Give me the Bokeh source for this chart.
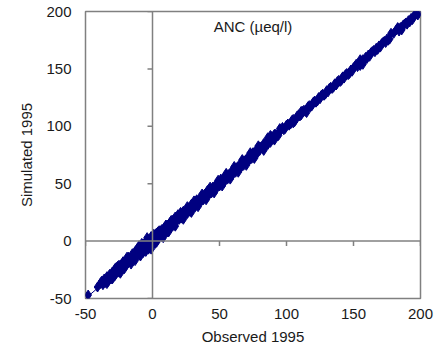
from bokeh.plotting import figure
from bokeh.models import Span, Label, Range1d, FixedTicker, PrintfTickFormatter
from bokeh.embed import file_html
from bokeh.resources import INLINE

# Data
observed = [-48, -41, -39, -37, -36, -35, -34, -33, -32, -31,
            -30, -29, -28, -28, -27, -26, -25, -25, -24, -23,
            -22, -22, -21, -20, -19, -18, -18, -17, -16, -15,
            -15, -14, -13, -12, -12, -11, -10, -10, -9, -8,
            -8, -7, -6, -6, -5, -5, -4, -4, -3, -3,
            -2, -2, -1, -1, 0, 0, 1, 1, 2, 2,
            3, 3, 4, 4, 5, 5, 6, 7, 7, 8,
            9, 9, 10, 11, 11, 12, 13, 14, 15, 15,
            16, 17, 18, 19, 20, 21, 22, 23, 24, 25,
            26, 27, 28, 29, 30, 31, 32, 33, 34, 35,
            36, 37, 38, 39, 40, 41, 42, 43, 44, 45,
            46, 47, 48, 49, 50, 51, 52, 53, 54, 55,
            56, 57, 58, 59, 60, 61, 62, 63, 64, 65,
            66, 67, 68, 69, 70, 71, 72, 73, 74, 75,
            76, 77, 78, 79, 80, 81, 82, 83, 84, 85,
            86, 87, 88, 89, 90, 92, 94, 96, 98, 100,
            102, 104, 106, 108, 110, 112, 114, 116, 118, 120,
            123, 126, 129, 132, 135, 138, 141, 144, 147, 150,
            153, 156, 160, 164, 168, 172, 176, 180, 184, 188,
            192, 196, 199,
            -38, -34, -30, -27, -24, -21, -19, -16, -13, -11,
            -9, -7, -5, -3, -1, 1, 3, 5, 8, 10,
            12, 14, 17, 19, 21, 23, 26, 29, 31, 34,
            37, 40, 43, 46, 49, 52, 55, 58, 61, 64,
            67, 70, 73, 76, 79, 83, 86, 88, 91, 95,
            105, 111, 115, 137, 142, 155, 157, 178, 183, 186,
            91, 93, 95, 97, 99,
            101, 103, 105, 107, 109, 111, 113, 115, 117, 119,
            121, 122, 124, 125, 127, 128, 130, 131, 133, 134,
            136, 137, 139, 140, 142, 143, 145, 146, 148, 149,
            151, 152, 154, 155, 157, 158, 159, 161, 162, 163,
            165, 166, 167, 169, 170, 171, 173, 174, 175, 177,
            182, 183, 185, 186, 187, 189, 190, 191, 193, 194,
            195, 197, 198]
simulated = [-47, -40, -37, -38, -33, -36, -31, -35, -29, -33,
             -27, -31, -24, -30, -28, -22, -27, -21, -25, -20,
             -24, -18, -21, -17, -20, -14, -19, -15, -18, -11,
             -16, -12, -9, -14, -10, -7, -12, -4, -9, -6,
             -2, -10, -3, -8, 0, -6, -1, 3, -7, -2,
             1, -5, -3, 4, 2, -4, 6, 0, 3, -2,
             7, 1, 2, 8, 6, 3, 9, 4, 10, 7,
             12, 6, 9, 14, 8, 11, 16, 12, 18, 13,
             14, 21, 17, 23, 19, 24, 20, 26, 22, 27,
             24, 29, 26, 32, 28, 33, 30, 36, 32, 37,
             34, 39, 36, 41, 38, 44, 40, 45, 42, 47,
             44, 49, 46, 51, 48, 54, 50, 55, 52, 56,
             54, 58, 56, 61, 58, 63, 60, 64, 62, 67,
             64, 68, 66, 70, 69, 73, 70, 75, 72, 77,
             74, 79, 76, 80, 79, 82, 81, 85, 82, 87,
             84, 88, 86, 91, 89, 93, 92, 97, 97, 101,
             101, 105, 104, 109, 109, 113, 113, 117, 117, 121,
             122, 127, 128, 133, 134, 139, 140, 145, 146, 151,
             152, 157, 159, 165, 167, 173, 175, 181, 183, 189,
             191, 197, 200,
             -35, -37, -33, -23, -28, -24, -14, -20, -17, -6,
             -13, -3, -9, 1, -7, 5, -1, 9, 3, 14,
             8, 18, 13, 22, 25, 19, 30, 25, 35, 30,
             41, 36, 47, 42, 53, 48, 59, 54, 65, 60,
             71, 66, 77, 72, 83, 79, 90, 92, 88, 98,
             103, 113, 112, 136, 143, 158, 154, 181, 186, 184,
             93, 92, 95, 99, 98,
             102, 102, 106, 106, 110, 110, 114, 114, 118, 118,
             122, 121, 125, 124, 128, 127, 131, 130, 134, 133,
             137, 136, 140, 139, 143, 142, 146, 145, 149, 148,
             152, 154, 155, 153, 158, 157, 160, 162, 161, 164,
             166, 165, 168, 170, 169, 172, 174, 173, 176, 176,
             184, 185, 186, 185, 188, 190, 189, 192, 194, 193,
             196, 198, 197]
tick_values = [-50, 0, 50, 100, 150, 200]
one_to_one = [-50, 200]
title_text = "ANC (µeq/l)"
x_label = "Observed 1995"
y_label = "Simulated 1995"

FONT = "Liberation Sans"
GREY = "#808080"
NAVY = "#000080"
TEXT = "#1a1a1a"

p = figure(frame_width=335, frame_height=287, output_backend="svg",
           toolbar_location=None, min_border_left=85, min_border_right=14,
           min_border_top=11, min_border_bottom=2,
           x_range=Range1d(-50, 200), y_range=Range1d(-50, 200))

p.background_fill_color = "white"
p.border_fill_color = "white"
p.outline_line_color = GREY
p.outline_line_width = 1.5
p.grid.visible = False

for ax in (p.xaxis[0], p.yaxis[0]):
    ax.ticker = FixedTicker(ticks=tick_values)
    ax.formatter = PrintfTickFormatter(format="%d")
    ax.axis_line_color = None
    ax.major_tick_line_color = None
    ax.minor_tick_line_color = None
    ax.major_tick_out = 0
    ax.major_tick_in = 0
    ax.major_label_text_font = FONT
    ax.major_label_text_font_size = "15px"
    ax.major_label_text_color = TEXT
    ax.axis_label_text_font = FONT
    ax.axis_label_text_font_size = "15px"
    ax.axis_label_text_font_style = "normal"
    ax.axis_label_text_color = TEXT

p.xaxis.axis_label = x_label
p.yaxis.axis_label = y_label
p.xaxis.major_label_standoff = 10
p.xaxis.axis_label_standoff = 6
p.yaxis.major_label_standoff = 14
p.yaxis.axis_label_standoff = 8
p.yaxis.major_label_orientation = "horizontal"

# zero axes
p.add_layout(Span(location=0, dimension="width", line_color=GREY, line_width=1.5))
p.add_layout(Span(location=0, dimension="height", line_color=GREY, line_width=1.5))

# tick marks on zero axes (5px long)
tx = 250 / 335 * 5
ty = 250 / 287 * 5
p.segment(x0=tick_values, y0=[0] * len(tick_values), x1=tick_values,
          y1=[-ty] * len(tick_values), line_color=GREY, line_width=1.5)
p.segment(x0=[0] * len(tick_values), y0=tick_values, x1=[-tx] * len(tick_values),
          y1=tick_values, line_color=GREY, line_width=1.5)

# 1:1 line
p.line(one_to_one, one_to_one, line_color=NAVY, line_width=1)

p.scatter(observed, simulated, marker="diamond", size=10,
          fill_color=NAVY, line_color=NAVY)

p.add_layout(Label(x=75, y=187, text=title_text, text_font=FONT,
                   text_font_size="15px", text_align="center",
                   text_baseline="middle", text_color=TEXT))

open("out.html", "w").write(file_html(p, INLINE))
